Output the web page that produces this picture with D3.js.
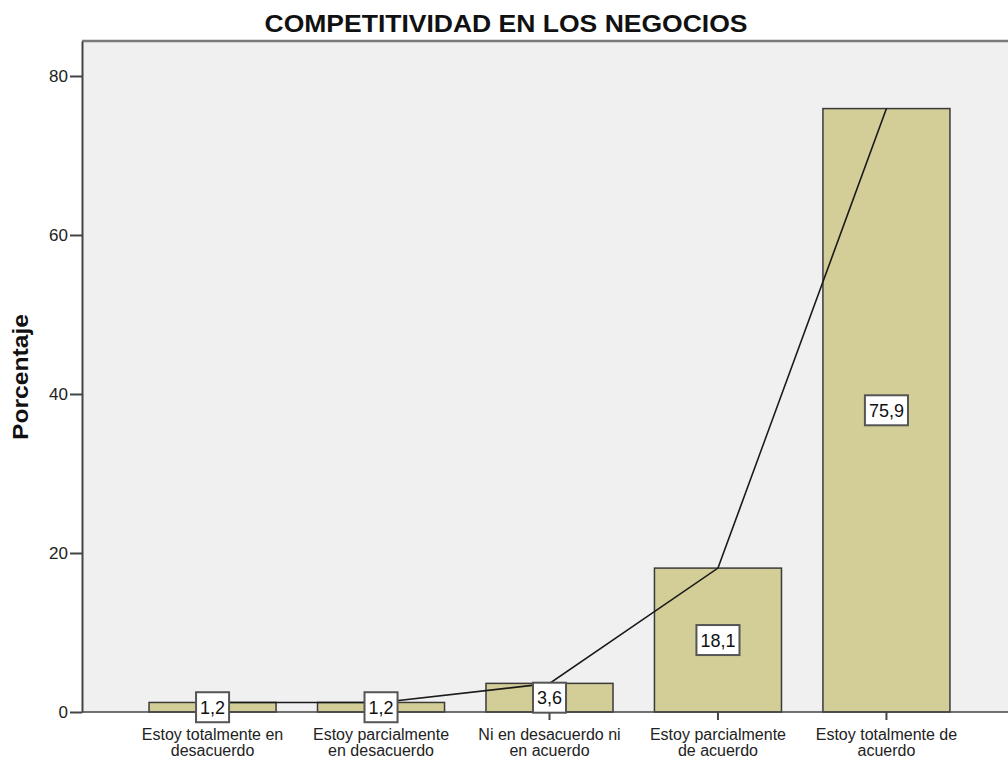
<!DOCTYPE html>
<html>
<head>
<meta charset="utf-8">
<script src="https://cdn.jsdelivr.net/npm/d3@7"></script>
<style>
  body { margin: 0; background: #ffffff; }
  text { font-family: "Liberation Sans", Arial, sans-serif; }
</style>
</head>
<body>
<div id="chart"></div>
<script>
// data
var categories = [
    ["Estoy totalmente en", "desacuerdo"],
    ["Estoy parcialmente", "en desacuerdo"],
    ["Ni en desacuerdo ni", "en acuerdo"],
    ["Estoy parcialmente", "de acuerdo"],
    ["Estoy totalmente de", "acuerdo"]
];
var values = [1.2, 1.2, 3.6, 18.1, 75.9];
var valueLabels = ["1,2", "1,2", "3,6", "18,1", "75,9"];
var yTicks = [0, 20, 40, 60, 80];

var width = 1008, height = 763;
var plot = { left: 82, top: 41, bottom: 712, right: 1008 };

var svg = d3.select("#chart").append("svg")
    .attr("width", width)
    .attr("height", height);

var x = d3.scaleBand()
    .domain(d3.range(categories.length))
    .range([plot.left, 1017])
    .paddingInner(0.246)
    .paddingOuter(0.398);

var y = d3.scaleLinear()
    .domain([0, 84.4])
    .range([plot.bottom, plot.top]);

// plot background
svg.append("rect")
    .attr("x", plot.left)
    .attr("y", plot.top)
    .attr("width", plot.right - plot.left)
    .attr("height", plot.bottom - plot.top)
    .attr("fill", "#f0f0f0");

// top frame line
svg.append("line")
    .attr("x1", plot.left).attr("x2", plot.right)
    .attr("y1", plot.top).attr("y2", plot.top)
    .attr("stroke", "#7a7a7a")
    .attr("stroke-width", 2.5);

// bars
svg.selectAll(".bar")
    .data(values)
    .enter().append("rect")
    .attr("class", "bar")
    .attr("x", function(d, i) { return x(i); })
    .attr("y", function(d) { return y(d); })
    .attr("width", x.bandwidth())
    .attr("height", function(d) { return y(0) - y(d); })
    .attr("fill", "#d3ce97")
    .attr("stroke", "#3a3a3a")
    .attr("stroke-width", 1.5);

// line through bar tops
var line = d3.line()
    .x(function(d, i) { return x(i) + x.bandwidth() / 2; })
    .y(function(d) { return y(d); });

svg.append("path")
    .datum(values)
    .attr("d", line)
    .attr("fill", "none")
    .attr("stroke", "#1a1a1a")
    .attr("stroke-width", 1.6);

// y axis
var yAxis = svg.append("g")
    .attr("transform", "translate(" + plot.left + ",0)")
    .call(d3.axisLeft(y).tickValues(yTicks).tickSize(12).tickPadding(2).tickSizeOuter(0));
yAxis.select(".domain").attr("stroke", "#444").attr("stroke-width", 2);
yAxis.selectAll(".tick line").attr("stroke", "#444").attr("stroke-width", 2);
yAxis.selectAll(".tick text")
    .attr("font-size", 17)
    .attr("fill", "#222")
    .style("font-family", "Liberation Sans, Arial, sans-serif");

// x axis line + ticks
svg.append("line")
    .attr("x1", plot.left).attr("x2", plot.right)
    .attr("y1", plot.bottom).attr("y2", plot.bottom)
    .attr("stroke", "#444").attr("stroke-width", 1.5);

svg.selectAll(".xtick")
    .data(categories)
    .enter().append("line")
    .attr("class", "xtick")
    .attr("x1", function(d, i) { return x(i) + x.bandwidth() / 2; })
    .attr("x2", function(d, i) { return x(i) + x.bandwidth() / 2; })
    .attr("y1", plot.bottom)
    .attr("y2", plot.bottom + 8)
    .attr("stroke", "#444")
    .attr("stroke-width", 2);

var xLabels = svg.selectAll(".xlabel")
    .data(categories)
    .enter().append("text")
    .attr("class", "xlabel")
    .attr("text-anchor", "middle")
    .attr("font-size", 16)
    .attr("fill", "#222");

xLabels.selectAll("tspan")
    .data(function(d, i) { return d.map(function(t) { return { t: t, i: i }; }); })
    .enter().append("tspan")
    .attr("x", function(d) { return x(d.i) + x.bandwidth() / 2; })
    .attr("y", function(d, j) { return 740 + j * 16; })
    .text(function(d) { return d.t; });

// value label boxes
var lbl = svg.selectAll(".vlabel")
    .data(values)
    .enter().append("g")
    .attr("class", "vlabel")
    .attr("transform", function(d, i) {
        return "translate(" + (x(i) + x.bandwidth() / 2) + "," + ((y(0) + y(d)) / 2) + ")";
    });

lbl.append("text")
    .attr("text-anchor", "middle")
    .attr("dy", "0.36em")
    .attr("font-size", 18)
    .attr("fill", "#111")
    .text(function(d, i) { return valueLabels[i]; });

lbl.each(function() {
    var g = d3.select(this);
    var bb = g.select("text").node().getBBox();
    g.insert("rect", "text")
        .attr("x", bb.x - 4)
        .attr("y", -15)
        .attr("width", bb.width + 8)
        .attr("height", 30)
        .attr("fill", "#ffffff")
        .attr("stroke", "#555")
        .attr("stroke-width", 2);
});

// title
svg.append("text")
    .attr("x", 506)
    .attr("y", 32)
    .attr("text-anchor", "middle")
    .attr("font-size", 24)
    .attr("font-weight", "bold")
    .attr("fill", "#111")
    .attr("textLength", 483)
    .attr("lengthAdjust", "spacingAndGlyphs")
    .text("COMPETITIVIDAD EN LOS NEGOCIOS");

// y axis title
svg.append("text")
    .attr("transform", "translate(28,377) rotate(-90)")
    .attr("text-anchor", "middle")
    .attr("font-size", 22)
    .attr("font-weight", "bold")
    .attr("fill", "#111")
    .attr("textLength", 126)
    .attr("lengthAdjust", "spacingAndGlyphs")
    .text("Porcentaje");
</script>
</body>
</html>
